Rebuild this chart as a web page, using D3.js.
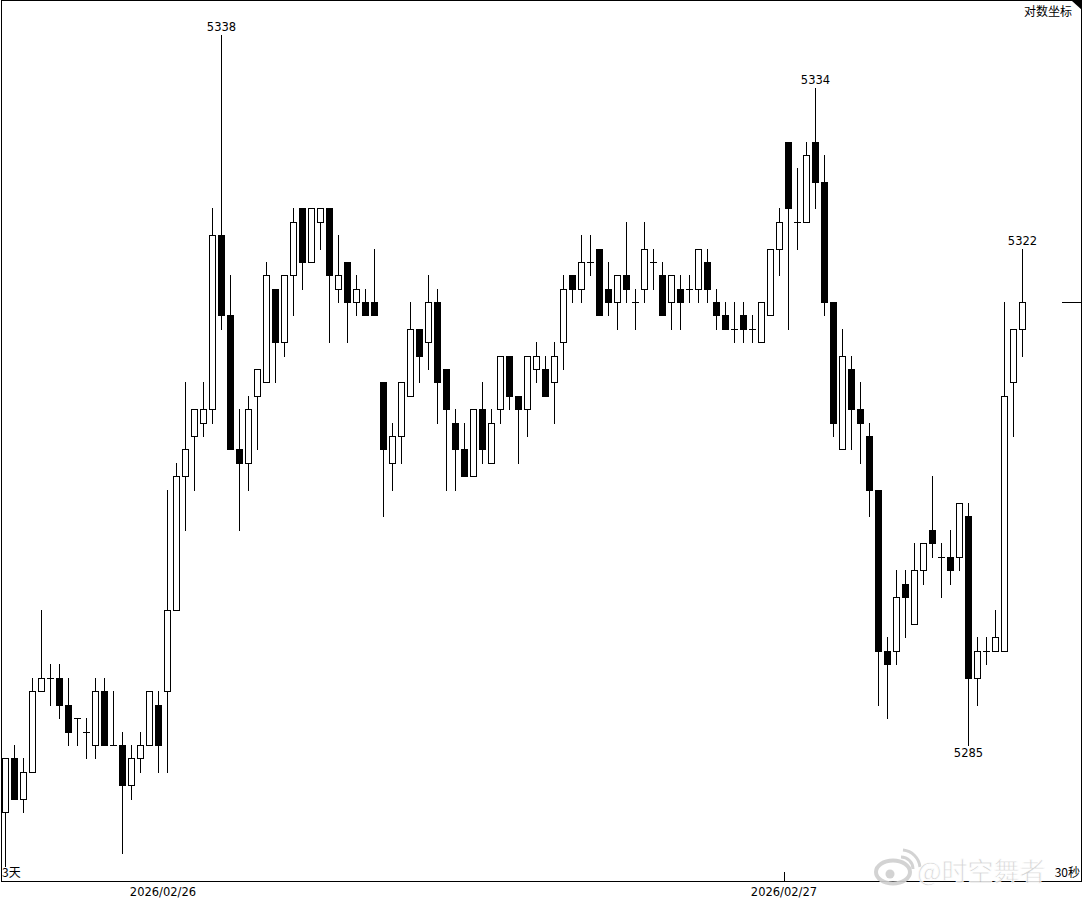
<!DOCTYPE html>
<html><head><meta charset="utf-8">
<script src="https://cdn.jsdelivr.net/npm/d3@7"></script>
<style>body{margin:0;background:#fff}svg{display:block}</style>
</head><body>
<svg id="c" width="1085" height="899"></svg>
<script>
// ---- data ----
const opens  = [5280,5284,5281,5283,5289,5290,5290,5288,5287,5286,5285,5289,5285,5285,5282,5284,5285,5288,5289,5295,
                5305,5308,5309,5310,5323,5317,5307,5306,5311,5312,5319,5315,5320,5325,5321,5324,5325,5319,5321,5318,
                5318,5318,5312,5306,5308,5311,5316,5315,5318,5313,5309,5307,5305,5310,5306,5310,5314,5311,5310,5313,
                5313,5312,5315,5320,5319,5321,5322,5319,5318,5320,5318,5319,5321,5320,5318,5319,5319,5319,5321,5318,
                5317,5316,5317,5316,5315,5317,5322,5330,5324,5324,5330,5327,5318,5307,5313,5310,5308,5304,5292,5292,
                5297,5294,5298,5301,5299,5299,5299,5302,5290,5292,5292,5292,5312,5316];
const highs  = [5284,5285,5284,5290,5295,5291,5291,5290,5287,5287,5290,5290,5289,5286,5285,5286,5289,5289,5304,5306,
                5312,5310,5312,5325,5338,5320,5310,5311,5313,5321,5319,5320,5325,5325,5325,5325,5325,5323,5321,5320,
                5319,5322,5312,5309,5312,5318,5316,5320,5319,5313,5310,5309,5310,5312,5310,5314,5314,5311,5314,5315,
                5314,5315,5320,5320,5323,5323,5322,5321,5320,5324,5319,5324,5322,5321,5320,5320,5320,5322,5322,5319,
                5318,5318,5318,5317,5318,5322,5325,5330,5328,5330,5334,5329,5318,5316,5314,5312,5309,5304,5293,5298,
                5298,5300,5300,5305,5300,5301,5303,5303,5293,5293,5295,5318,5316,5322];
const lows   = [5276,5281,5280,5283,5289,5288,5287,5285,5285,5284,5284,5285,5285,5277,5281,5283,5285,5283,5283,5295,
                5301,5304,5308,5309,5316,5307,5301,5304,5307,5312,5312,5314,5317,5319,5321,5322,5315,5318,5315,5317,
                5317,5317,5302,5304,5306,5311,5312,5313,5309,5304,5304,5305,5305,5306,5306,5309,5310,5306,5308,5312,
                5311,5309,5313,5318,5318,5320,5317,5317,5316,5318,5316,5318,5319,5317,5316,5316,5318,5318,5318,5316,
                5316,5315,5315,5315,5315,5317,5320,5316,5322,5324,5325,5317,5308,5307,5307,5306,5302,5288,5287,5291,
                5293,5294,5297,5299,5296,5297,5298,5285,5288,5291,5292,5292,5308,5314];
const closes = [5284,5281,5283,5289,5290,5290,5288,5286,5287,5286,5289,5285,5285,5282,5284,5285,5289,5285,5295,5305,
                5307,5310,5310,5323,5317,5307,5306,5310,5313,5320,5315,5320,5324,5321,5325,5325,5320,5320,5318,5319,
                5317,5317,5307,5308,5312,5316,5314,5318,5312,5310,5307,5305,5310,5307,5309,5314,5311,5310,5314,5314,
                5311,5314,5319,5319,5321,5321,5317,5318,5320,5319,5318,5322,5321,5317,5320,5318,5319,5322,5319,5317,
                5316,5316,5316,5316,5318,5322,5324,5325,5324,5329,5327,5318,5309,5314,5310,5309,5304,5292,5291,5296,
                5296,5298,5300,5300,5299,5298,5303,5290,5292,5292,5293,5311,5316,5318];
const dateLabels = ["2026/02/26", "2026/02/27"];
const dateIdx    = [17.5, 86.5];
const dateTick   = [false, true];
const markIdx    = [24, 90, 107, 113];
const markKind   = ["high", "high", "low", "high"];
const cornerLabel = "对数坐标";
const leftLabel   = "3天";
const rightLabel  = "30秒";
const watermark   = "@时空舞者";

// ---- drawing ----
const svg = d3.select("#c");
const n = opens.length;
const x = d3.scaleLinear().domain([0, n - 1]).range([5.5, 1022.5]);
const y = d3.scaleLog().domain([5285, 5338]).range([745, 35]);
const Y = p => Math.round(y(p));

svg.append("rect").attr("width", 1085).attr("height", 899).attr("fill", "#fff");

const data = d3.range(n).map(i => ({i, o: opens[i], h: highs[i], l: lows[i], c: closes[i]}));
const g = svg.append("g").attr("shape-rendering", "crispEdges");

// wicks
g.selectAll("line.wick").data(data).join("line").attr("class", "wick")
  .attr("x1", d => Math.floor(x(d.i)) + 0.5).attr("x2", d => Math.floor(x(d.i)) + 0.5)
  .attr("y1", d => Y(d.h)).attr("y2", d => Y(d.l) + 1)
  .attr("stroke", "#000").attr("stroke-width", 1);

// up bodies (hollow)
g.selectAll("rect.up").data(data.filter(d => d.c > d.o)).join("rect").attr("class", "up")
  .attr("x", d => Math.floor(x(d.i)) - 3 + 0.5).attr("width", 6)
  .attr("y", d => Y(d.c) + 0.5).attr("height", d => Y(d.o) - Y(d.c))
  .attr("fill", "#fff").attr("stroke", "#000").attr("stroke-width", 1);

// down bodies (filled)
g.selectAll("rect.down").data(data.filter(d => d.c < d.o)).join("rect").attr("class", "down")
  .attr("x", d => Math.floor(x(d.i)) - 3).attr("width", 7)
  .attr("y", d => Y(d.o)).attr("height", d => Y(d.c) - Y(d.o) + 1)
  .attr("fill", "#000");

// doji
g.selectAll("line.doji").data(data.filter(d => d.c === d.o)).join("line").attr("class", "doji")
  .attr("x1", d => Math.floor(x(d.i)) - 3).attr("x2", d => Math.floor(x(d.i)) + 4)
  .attr("y1", d => Y(d.o) + 0.5).attr("y2", d => Y(d.o) + 0.5)
  .attr("stroke", "#000").attr("stroke-width", 1);

// frame
svg.append("rect").attr("x", 1.5).attr("y", 0.5).attr("width", 1080).attr("height", 881)
  .attr("fill", "none").attr("stroke", "#000").attr("stroke-width", 1).attr("shape-rendering", "crispEdges");

// corner triangle
svg.append("path").attr("d", "M1072,1 L1082,1 L1082,10 Z").attr("fill", "#000");

// current price marker
svg.append("line").attr("x1", 1062).attr("x2", 1081)
  .attr("y1", Y(closes[n - 1]) + 0.5).attr("y2", Y(closes[n - 1]) + 0.5)
  .attr("stroke", "#000").attr("shape-rendering", "crispEdges");

// extreme labels
const numFont = "DejaVu Sans, Liberation Sans, sans-serif";
svg.selectAll("text.mark").data(markIdx.map((idx, k) => ({idx, kind: markKind[k]}))).join("text")
  .attr("class", "mark")
  .attr("x", d => Math.floor(x(d.idx)) + 0.5)
  .attr("y", d => d.kind === "high" ? Y(highs[d.idx]) - 4 : Y(lows[d.idx]) + 12)
  .attr("text-anchor", "middle").attr("font-family", numFont).attr("font-size", "11.5px").attr("fill", "#000")
  .text(d => d.kind === "high" ? highs[d.idx] : lows[d.idx]);

// date axis
const ax = svg.append("g");
ax.selectAll("text").data(dateLabels).join("text")
  .attr("x", (d, k) => x(dateIdx[k])).attr("y", 896)
  .attr("text-anchor", "middle").attr("font-family", numFont).attr("font-size", "11.5px").attr("fill", "#000")
  .text(d => d);
ax.selectAll("line").data(dateIdx.filter((d, k) => dateTick[k])).join("line")
  .attr("x1", d => Math.floor(x(d)) + 0.5).attr("x2", d => Math.floor(x(d)) + 0.5)
  .attr("y1", 872).attr("y2", 881).attr("stroke", "#000").attr("shape-rendering", "crispEdges");

const cjk = "Noto Sans CJK SC, sans-serif";
svg.append("text").attr("x", 1072).attr("y", 16).attr("text-anchor", "end")
  .attr("font-family", cjk).attr("font-size", "12px").attr("fill", "#000").text(cornerLabel);
svg.append("text").attr("x", 2).attr("y", 877)
  .attr("font-family", cjk).attr("font-size", "12px").attr("fill", "#000").text(leftLabel);
svg.append("text").attr("x", 1080).attr("y", 877).attr("text-anchor", "end")
  .attr("font-family", cjk).attr("font-size", "12px").attr("fill", "#000").text(rightLabel);

// watermark
const wm = svg.append("g").attr("opacity", 0.9);
wm.append("ellipse").attr("cx", 893).attr("cy", 872).attr("rx", 17).attr("ry", 11.5)
  .attr("fill", "none").attr("stroke", "#cfcfcf").attr("stroke-width", 4);
wm.append("circle").attr("cx", 890).attr("cy", 874).attr("r", 4.5).attr("fill", "#cfcfcf");
wm.append("path").attr("d", "M901,857 A12,12 0 0 1 913,869").attr("fill", "none").attr("stroke", "#cfcfcf").attr("stroke-width", 3);
wm.append("path").attr("d", "M903,850 A19,19 0 0 1 920,867").attr("fill", "none").attr("stroke", "#cfcfcf").attr("stroke-width", 3);
wm.append("text").attr("x", 917).attr("y", 881)
  .attr("font-family", cjk).attr("font-size", "26px").attr("fill", "#cfcfcf")
  .attr("stroke", "#fff").attr("stroke-width", 0.8).text(watermark);
</script>
</body></html>
